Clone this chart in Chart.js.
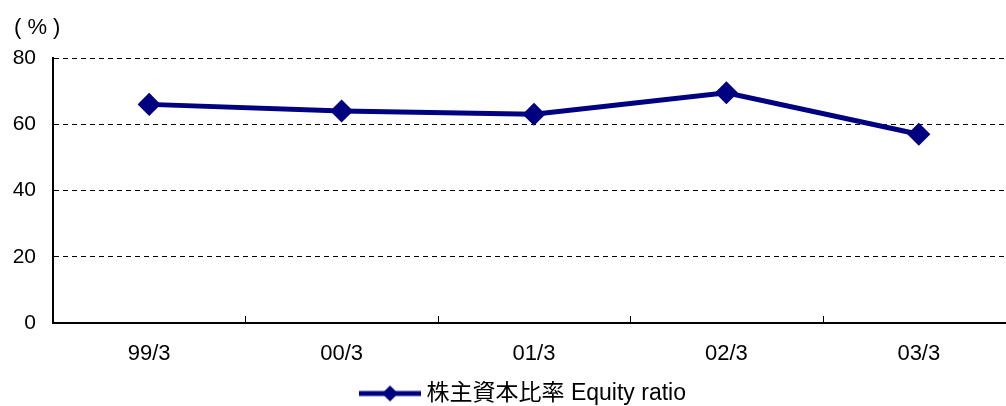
<!DOCTYPE html>
<html>
<head>
<meta charset="utf-8">
<script src="https://cdn.jsdelivr.net/npm/chart.js@4"></script>
<style>
    html, body { margin: 0; padding: 0; background: #fff; overflow: hidden; }
    #chart { display: block; }
</style>
</head>
<body>
<!-- plot runs a few px past the right edge of the window, like the source -->
<canvas id="chart" width="1015" height="406"></canvas>
<script>
// data
const categories = ['99/3', '00/3', '01/3', '02/3', '03/3'];
const equityRatio = [66, 64, 63, 69.5, 57];
const seriesLabel = '株主資本比率 Equity ratio';
const yTicks = [0, 20, 40, 60, 80];
const unitLabel = '( % )';

const NAVY = '#000080';
const BASE_FONT = '"Liberation Sans", Arial, "Noto Sans CJK JP", sans-serif';

// legend marker: line with diamond in the middle
function legendMarker() {
    let c = document.createElement('canvas');
    c.width = 62;
    c.height = 18;
    let ctx = c.getContext('2d');
    ctx.strokeStyle = NAVY;
    ctx.lineWidth = 5;
    ctx.beginPath();
    ctx.moveTo(0, 9);
    ctx.lineTo(62, 9);
    ctx.stroke();
    ctx.fillStyle = NAVY;
    ctx.beginPath();
    ctx.moveTo(31, 1);
    ctx.lineTo(39, 9);
    ctx.lineTo(31, 17);
    ctx.lineTo(23, 9);
    ctx.closePath();
    ctx.fill();
    return c;
}

// nudge the legend box to where the source has it
const legendShift = {
    id: 'legendShift',
    afterLayout(chart) {
        let lg = chart.legend;
        lg.left += 18;
        lg.right += 18;
        lg.top += 9;
        lg.bottom += 9;
    }
};

// small tick marks between categories, pointing up into the plot
const innerTicks = {
    id: 'innerTicks',
    afterDraw(chart) {
        let ctx = chart.ctx;
        let x = chart.scales.x;
        let area = chart.chartArea;
        ctx.save();
        ctx.strokeStyle = '#000';
        ctx.lineWidth = 1;
        for (let i = 0; i < categories.length - 1; i++) {
            let px = Math.round(x.getPixelForValue(i + 0.5)) + 0.5;
            ctx.beginPath();
            ctx.moveTo(px, area.bottom);
            ctx.lineTo(px, area.bottom - 7);
            ctx.stroke();
        }
        // unit label above the y axis
        let y = chart.scales.y;
        ctx.fillStyle = '#000';
        ctx.font = '22px ' + BASE_FONT;
        ctx.textBaseline = 'middle';
        ctx.textAlign = 'left';
        ctx.fillText(unitLabel, y.left + 14, area.top - 30);
        ctx.restore();
    }
};

new Chart(document.getElementById('chart'), {
    type: 'line',
    data: {
        labels: categories,
        datasets: [{
            label: seriesLabel,
            data: equityRatio,
            borderColor: NAVY,
            backgroundColor: NAVY,
            borderWidth: 5,
            pointStyle: 'rectRot',
            pointRadius: 8,
            pointHoverRadius: 8,
            tension: 0,
            fill: false
        }]
    },
    options: {
        responsive: false,
        animation: false,
        devicePixelRatio: 1,
        layout: {
            autoPadding: false,
            padding: { top: 58, right: 0, left: 0, bottom: 0 }
        },
        plugins: {
            tooltip: { enabled: false },
            legend: {
                position: 'bottom',
                labels: {
                    usePointStyle: true,
                    pointStyleWidth: 50,
                    padding: 1,
                    color: '#000',
                    font: { size: 23, family: BASE_FONT },
                    generateLabels: function (chart) {
                        return [{
                            text: seriesLabel,
                            pointStyle: legendMarker(),
                            fillStyle: NAVY,
                            strokeStyle: NAVY,
                            lineWidth: 0,
                            datasetIndex: 0
                        }];
                    }
                }
            }
        },
        scales: {
            x: {
                offset: true,
                grid: { display: false, drawTicks: false },
                border: { display: true, color: '#000', width: 2 },
                afterFit: function (scale) {
                    scale.height = 49;
                    scale.paddingLeft = 0;
                    scale.paddingRight = 0;
                },
                ticks: {
                    color: '#000',
                    padding: 18,
                    font: { size: 22, family: BASE_FONT }
                }
            },
            y: {
                min: 0,
                max: 80,
                afterBuildTicks: function (scale) {
                    scale.ticks = yTicks.map(v => ({ value: v }));
                },
                afterFit: function (scale) {
                    scale.width = 53;
                },
                grid: {
                    color: '#000',
                    lineWidth: 1,
                    drawTicks: false
                },
                border: { display: true, color: '#000', width: 2, dash: [5, 4] },
                ticks: {
                    color: '#000',
                    padding: 17,
                    font: { size: 21, family: BASE_FONT }
                }
            }
        }
    },
    plugins: [innerTicks, legendShift]
});
</script>
</body>
</html>
